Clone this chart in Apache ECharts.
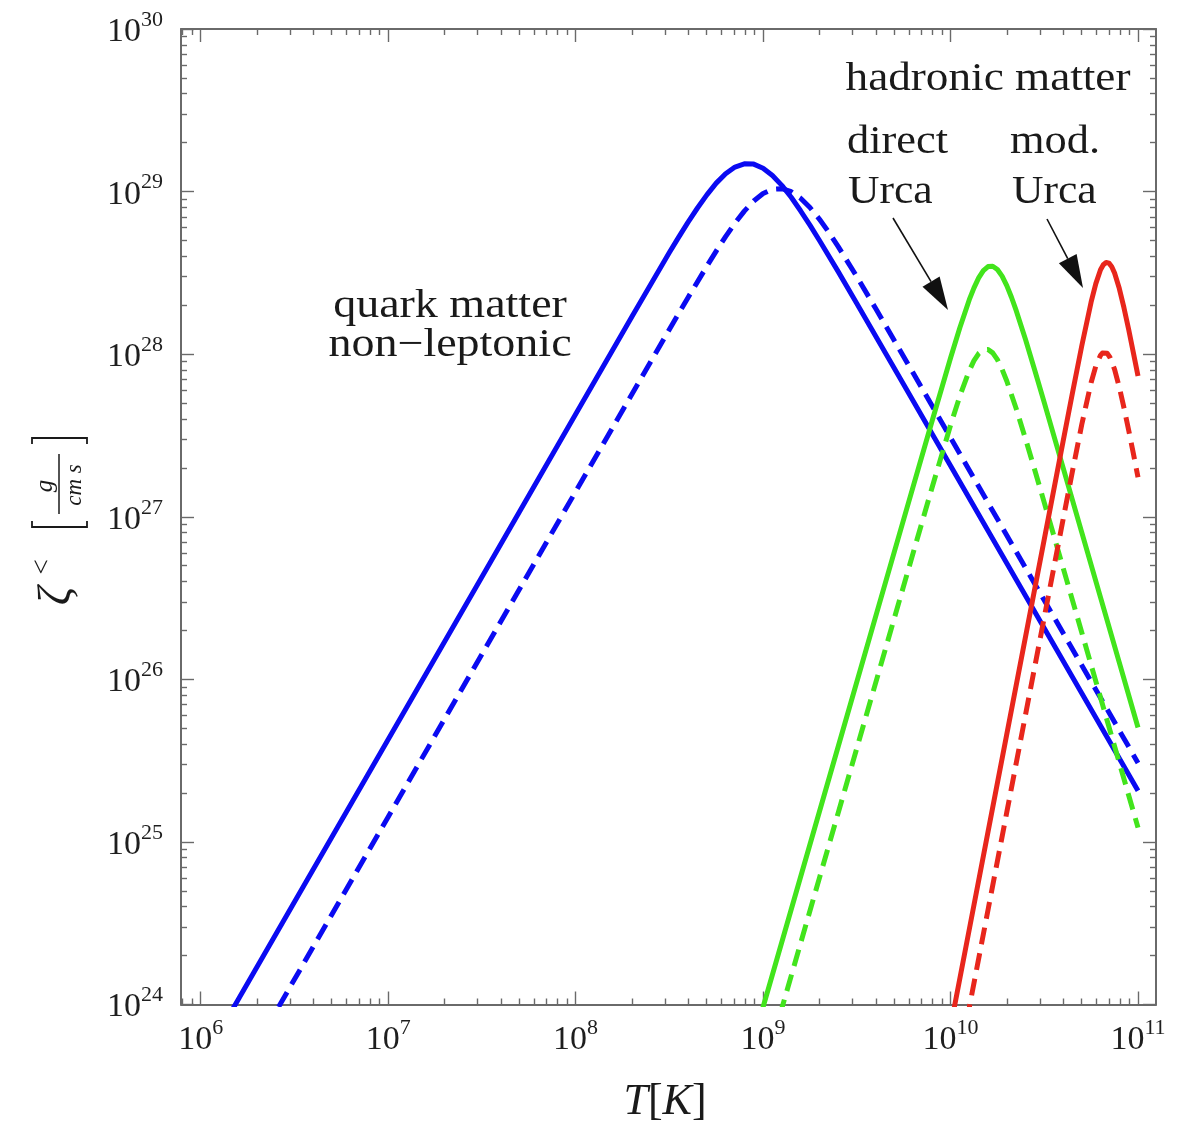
<!DOCTYPE html>
<html><head><meta charset="utf-8">
<script src="https://cdn.jsdelivr.net/npm/echarts@6/dist/echarts.min.js"></script>
<style>html,body{margin:0;padding:0;background:#fff}#c{width:1187px;height:1125px}</style>
</head><body><div id="c"></div>
<script>
// tick labels (exponents of ten)
const xTickValues = [6, 7, 8, 9, 10, 11];
const yTickValues = [24, 25, 26, 27, 28, 29, 30];

// log10(T [K]) and log10(zeta [g/(cm s)])
const blueSolidT = [6.0, 6.5, 7.0, 7.5, 8.0, 8.3, 8.5, 8.55, 8.6, 8.65, 8.7, 8.75, 8.8, 8.85, 8.9, 8.95, 9.0, 9.05, 9.1, 9.15, 9.2, 9.25, 9.3, 9.4, 9.5, 9.75, 10.0, 10.5, 11.0];
const blueSolidZ = [23.63, 24.63, 25.63, 26.63, 27.63, 28.23, 28.625, 28.72, 28.812, 28.899, 28.98, 29.052, 29.11, 29.151, 29.171, 29.169, 29.144, 29.099, 29.038, 28.965, 28.882, 28.794, 28.701, 28.509, 28.312, 27.814, 27.314, 26.314, 25.314];

const blueDashT = [6.0, 7.0, 8.0, 8.5, 8.6, 8.7, 8.75, 8.8, 8.85, 8.9, 8.95, 9.0, 9.05, 9.1, 9.15, 9.2, 9.25, 9.3, 9.35, 9.4, 9.5, 9.6, 9.8, 10.0, 10.5, 11.0];
const blueDashZ = [23.154, 25.154, 27.154, 28.152, 28.349, 28.541, 28.634, 28.723, 28.806, 28.88, 28.942, 28.988, 29.014, 29.018, 28.999, 28.959, 28.902, 28.831, 28.751, 28.663, 28.477, 28.282, 27.885, 27.486, 26.486, 25.486];

const greenSolidT = [8.95, 9.2, 9.4, 9.6, 9.8, 9.9, 10.0, 10.05, 10.1, 10.125, 10.15, 10.175, 10.2, 10.225, 10.25, 10.275, 10.3, 10.325, 10.35, 10.4, 10.45, 10.5, 10.6, 10.7, 10.8, 10.9, 11.0];
const greenSolidZ = [23.784, 24.784, 25.584, 26.384, 27.184, 27.583, 27.976, 28.164, 28.335, 28.408, 28.469, 28.514, 28.539, 28.541, 28.521, 28.48, 28.422, 28.35, 28.269, 28.09, 27.898, 27.702, 27.304, 26.904, 26.504, 26.104, 25.704];

const greenDashT = [9.05, 9.3, 9.5, 9.7, 9.9, 10.0, 10.05, 10.1, 10.125, 10.15, 10.175, 10.2, 10.225, 10.25, 10.275, 10.3, 10.35, 10.4, 10.45, 10.5, 10.6, 10.7, 10.8, 10.9, 11.0];
const greenDashZ = [23.776, 24.776, 25.576, 26.376, 27.174, 27.563, 27.744, 27.899, 27.96, 28.004, 28.027, 28.029, 28.008, 27.966, 27.907, 27.835, 27.666, 27.479, 27.284, 27.087, 26.688, 26.288, 25.888, 25.488, 25.088];

const redSolidT = [9.98, 10.1, 10.2, 10.3, 10.4, 10.5, 10.6, 10.65, 10.7, 10.75, 10.775, 10.8, 10.815, 10.83, 10.845, 10.86, 10.875, 10.9, 10.925, 10.95, 10.975, 11.0];
const redSolidZ = [23.742, 24.462, 25.062, 25.662, 26.262, 26.862, 27.461, 27.759, 28.051, 28.321, 28.434, 28.519, 28.55, 28.564, 28.56, 28.538, 28.499, 28.405, 28.286, 28.153, 28.011, 27.866];

const redDashT = [10.06, 10.2, 10.3, 10.4, 10.5, 10.6, 10.65, 10.7, 10.75, 10.775, 10.8, 10.81, 10.82, 10.835, 10.85, 10.875, 10.9, 10.925, 10.95, 10.975, 11.0];
const redDashZ = [23.742, 24.582, 25.182, 25.782, 26.382, 26.981, 27.278, 27.567, 27.826, 27.927, 27.993, 28.007, 28.013, 28.006, 27.981, 27.906, 27.798, 27.671, 27.534, 27.39, 27.243];

const X_MIN = 5.895, X_MAX = 11.096, Y_MIN = 24, Y_MAX = 30;
const SERIF = '"Liberation Serif", "DejaVu Serif", serif';
const frameColor = '#6a6a6a';
const BLUE = '#0a0af2', GREEN = '#42e41c', RED = '#e8261c';
const DASH = [17, 9];

function minorTicks(lo, hi) {
  const out = [];
  for (let d = Math.floor(lo); d <= Math.ceil(hi); d++) {
    for (let k = 2; k <= 9; k++) {
      const v = d + Math.log10(k);
      if (v > lo && v < hi) out.push(v);
    }
  }
  return out;
}
const xMinor = minorTicks(X_MIN, X_MAX);
const yMinor = minorTicks(Y_MIN, Y_MAX);

const richLabel = {
  b: { fontFamily: SERIF, fontSize: 34, color: '#1e1e1e', verticalAlign: 'bottom' },
  s: { fontFamily: SERIF, fontSize: 22, color: '#1e1e1e', verticalAlign: 'bottom', padding: [0, 0, 18, 0] }
};

function axis(range, pos, ticks, len, showLine, labelMargin) {
  return {
    type: 'value', position: pos, min: range[0], max: range[1],
    axisLine: { show: showLine, onZero: false, lineStyle: { color: frameColor, width: 2 } },
    axisTick: { show: true, inside: true, length: len, customValues: ticks, lineStyle: { color: frameColor, width: 1.4 } },
    axisLabel: labelMargin != null ? {
      show: true, customValues: ticks, margin: labelMargin,
      formatter: v => '{b|10}{s|' + Math.round(v) + '}', rich: richLabel
    } : { show: false },
    splitLine: { show: false }, minorTick: { show: false }, minorSplitLine: { show: false }
  };
}

function pairs(ts, zs) { return ts.map((t, i) => [t, zs[i]]); }
function line(name, ts, zs, color, dashed) {
  return {
    name, type: 'line', xAxisIndex: 0, yAxisIndex: 0,
    data: pairs(ts, zs), showSymbol: false, symbol: 'none',
    smooth: false, clip: true,
    lineStyle: { color, width: 5, type: dashed ? DASH : 'solid', cap: 'butt', join: 'round' },
    emphasis: { disabled: true }, z: 3
  };
}

function arrow(x1, y1, x2, y2, headLen, halfW) {
  const dx = x2 - x1, dy = y2 - y1, L = Math.hypot(dx, dy);
  const ux = dx / L, uy = dy / L, px = -uy, py = ux;
  const bx = x2 - ux * headLen, by = y2 - uy * headLen;
  return [
    { type: 'line', shape: { x1, y1, x2: bx, y2: by }, style: { stroke: '#111', lineWidth: 1.6 } },
    { type: 'polygon', shape: { points: [[x2, y2], [bx + px * halfW, by + py * halfW], [bx - px * halfW, by - py * halfW]] }, style: { fill: '#111' } }
  ];
}

function label(text, x, y, align, sx) {
  return { type: 'text', x, y, scaleX: sx || 1.13,
    style: { text, font: '40px ' + SERIF, fill: '#1a1a1a', textAlign: align, textVerticalAlign: 'middle', align, verticalAlign: 'middle' } };
}

const chart = echarts.init(document.getElementById('c'), null, { renderer: 'canvas' });
chart.setOption({
  animation: false,
  backgroundColor: '#ffffff',
  grid: { left: 181, top: 29, width: 975, height: 975.5, containLabel: false, outerBoundsMode: 'none' },
  xAxis: [
    axis([X_MIN, X_MAX], 'bottom', xTickValues, 13, true, 13),
    axis([X_MIN, X_MAX], 'bottom', xMinor, 6, false, null),
    axis([X_MIN, X_MAX], 'top', xTickValues, 13, true, null),
    axis([X_MIN, X_MAX], 'top', xMinor, 6, false, null)
  ],
  yAxis: [
    axis([Y_MIN, Y_MAX], 'left', yTickValues, 13, true, 18),
    axis([Y_MIN, Y_MAX], 'left', yMinor, 6, false, null),
    axis([Y_MIN, Y_MAX], 'right', yTickValues, 13, true, null),
    axis([Y_MIN, Y_MAX], 'right', yMinor, 6, false, null)
  ],
  series: [
    line('quark solid', blueSolidT, blueSolidZ, BLUE, false),
    line('quark dashed', blueDashT, blueDashZ, BLUE, true),
    line('dUrca solid', greenSolidT, greenSolidZ, GREEN, false),
    line('dUrca dashed', greenDashT, greenDashZ, GREEN, true),
    line('mUrca solid', redSolidT, redSolidZ, RED, false),
    line('mUrca dashed', redDashT, redDashZ, RED, true)
  ],
  graphic: [
    label('quark matter', 450, 306, 'center', 1.15),
    label('non\u2212leptonic', 450, 345, 'center', 1.15),
    label('hadronic matter', 988, 79, 'center', 1.13),
    label('direct', 847, 142, 'left', 1.11),
    label('Urca', 848, 192, 'left', 1.09),
    label('mod.', 1010, 142, 'left', 1.11),
    label('Urca', 1012, 192, 'left', 1.09),
    ...arrow(893, 218, 948, 310, 33, 10),
    ...arrow(1047, 219, 1083, 288, 33, 10),
    {
      type: 'text', x: 665, y: 1102,
      style: {
        text: '{i|T}{n|[}{i|K}{n|]}', textAlign: 'center', textVerticalAlign: 'middle', align: 'center', verticalAlign: 'middle',
        rich: {
          i: { fontFamily: SERIF, fontStyle: 'italic', fontSize: 44, fill: '#1a1a1a', color: '#1a1a1a' },
          n: { fontFamily: SERIF, fontSize: 44, fill: '#1a1a1a', color: '#1a1a1a' }
        }
      }
    },
    {
      type: 'group', x: 60, y: 522, rotation: Math.PI / 2,
      children: [
        { type: 'text', x: -74, y: -2, style: { text: '\u03b6', font: 'italic 46px ' + SERIF, fill: '#1a1a1a', textAlign: 'center', textVerticalAlign: 'middle', align: 'center', verticalAlign: 'middle' } },
        { type: 'text', x: -45, y: -17, style: { text: '<', font: '27px ' + SERIF, fill: '#1a1a1a', textAlign: 'center', textVerticalAlign: 'middle', align: 'center', verticalAlign: 'middle' } },
        { type: 'polyline', shape: { points: [[1, -28], [-5, -28], [-5, 27], [1, 27]] }, style: { stroke: '#1a1a1a', lineWidth: 1.8, fill: null } },
        { type: 'text', x: 36, y: -15, style: { text: 'g', font: 'italic 25px ' + SERIF, fill: '#1a1a1a', textAlign: 'center', textVerticalAlign: 'middle', align: 'center', verticalAlign: 'middle' } },
        { type: 'line', shape: { x1: 8, y1: -1, x2: 68, y2: -1 }, style: { stroke: '#1a1a1a', lineWidth: 1.5 } },
        { type: 'text', x: 37, y: 15, style: { text: 'cm s', font: 'italic 23px ' + SERIF, fill: '#1a1a1a', textAlign: 'center', textVerticalAlign: 'middle', align: 'center', verticalAlign: 'middle' } },
        { type: 'polyline', shape: { points: [[78, -28], [84, -28], [84, 27], [78, 27]] }, style: { stroke: '#1a1a1a', lineWidth: 1.8, fill: null } }
      ]
    }
  ]
});
</script></body></html>
